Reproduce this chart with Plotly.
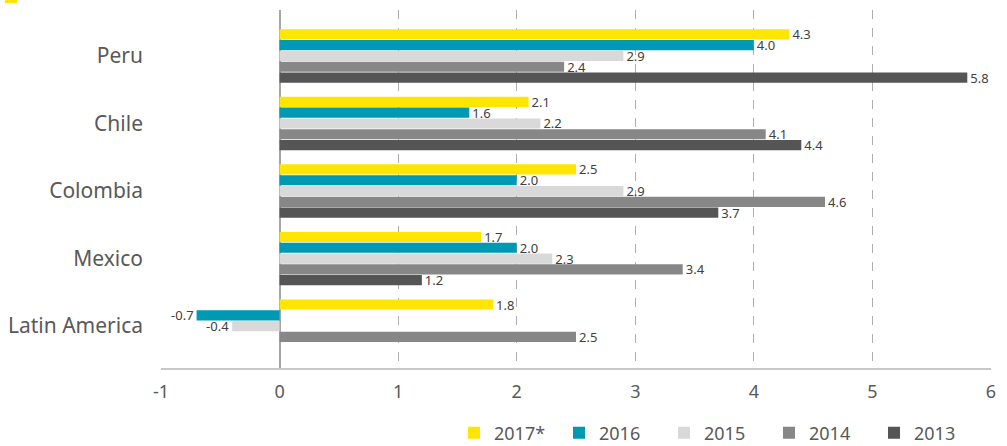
import plotly.graph_objects as go

categories = ["Peru", "Chile", "Colombia", "Mexico", "Latin America"]
series_names = ["2017*", "2016", "2015", "2014", "2013"]
v2017 = [4.3, 2.1, 2.5, 1.7, 1.8]
v2016 = [4.0, 1.6, 2.0, 2.0, -0.7]
v2015 = [2.9, 2.2, 2.9, 2.3, -0.4]
v2014 = [2.4, 4.1, 4.6, 3.4, 2.5]
v2013 = [5.8, 4.4, 3.7, 1.2, None]
x_ticks = [-1, 0, 1, 2, 3, 4, 5, 6]
x_ticktext = ["-1", "0", "1", "2", "3", "4", "5", "6"]

colors = ["#FFE600", "#0099B4", "#D9D9D9", "#878787", "#555555"]
FONT = "Noto Sans"

fig = go.Figure()
for name, vals, col in zip(series_names, [v2017, v2016, v2015, v2014, v2013], colors):
    fig.add_trace(go.Bar(
        y=categories, x=vals, name=name, orientation="h",
        marker=dict(color=col, line=dict(width=0)),
        text=[("" if v is None else f"{v:.1f}") for v in vals],
        textposition="outside", cliponaxis=False, constraintext="none",
        textfont=dict(family=FONT, size=13, color="#404040"),
    ))

fig.update_layout(
    barmode="group", bargap=0.2, bargroupgap=0.06,
    width=1007, height=446,
    margin=dict(l=161, r=16, t=10, b=78, autoexpand=False),
    plot_bgcolor="white", paper_bgcolor="white",
    font=dict(family=FONT, color="#595959"),
    legend=dict(orientation="h", x=0.353, xanchor="left", y=-0.1816, yanchor="middle",
                font=dict(family=FONT, size=18, color="#595959"),
                traceorder="normal", itemwidth=30, entrywidth=60),
    xaxis=dict(range=[-1, 6], tickvals=x_ticks, ticktext=x_ticktext, showgrid=True,
               gridcolor="#AFAFAF", griddash="dash", gridwidth=1, zeroline=True,
               zerolinecolor="#A6A6A6", zerolinewidth=1.5, showline=True,
               linecolor="#C8C8C8", linewidth=2, ticks="", ticklabelstandoff=6,
               tickfont=dict(family=FONT, size=18, color="#595959")),
    yaxis=dict(range=[4.62, -0.68], showgrid=False, ticks="", ticklabelstandoff=17,
               tickfont=dict(family=FONT, size=21, color="#595959")),
)

fig.add_shape(type="rect", xref="paper", yref="paper",
              x0=-0.188, x1=-0.1735, y0=1.0196, y1=1.03,
              fillcolor="#FFE600", line=dict(width=0))

fig.write_html("out.html", config={"displayModeBar": False},
               post_script="document.body.style.margin='0';")
